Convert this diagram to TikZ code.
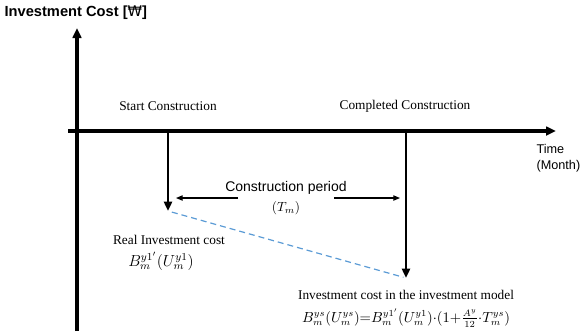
\documentclass[tikz,border=0pt]{standalone}
\usepackage{fontspec}
\setmainfont{Liberation Serif}
\setsansfont{Liberation Sans}
\newfontfamily\wonfont{DejaVu Sans}
\usetikzlibrary{arrows.meta,positioning}
\definecolor{dashblue}{RGB}{91,155,213}

\begin{document}
\begin{tikzpicture}[x=0.75pt, y=-0.75pt]
    \tikzstyle{axis} = [line width=2.3pt, -{Triangle[length=7.5pt,width=6.5pt]}]
    \tikzstyle{drop} = [line width=2.2pt, -{Triangle[length=7pt,width=6pt]}]
    \tikzstyle{span} = [line width=0.8pt, -{Triangle[length=5pt,width=4pt]}]
    \tikzstyle{every node} = [inner sep=1pt, font=\fontsize{10}{12}\selectfont]
    \useasboundingbox (0,0) rectangle (581,333);

    % axes
    \coordinate (ybot) at (77,331);
    \coordinate (ytop) at (77,28);
    \coordinate (xleft) at (68,131);
    \coordinate (xright) at (556,131);
    \draw[axis] (ybot) -- (ytop);
    \draw[axis] (xleft) -- (xright);

    % start and end of construction
    \coordinate (start0) at (168,131);
    \coordinate (start1) at (168,211);
    \coordinate (done0) at (406,131);
    \coordinate (done1) at (406,278);
    \draw[dashblue, line width=0.9pt, dash pattern=on 4.5pt off 3pt,
          shorten <=3pt, shorten >=2pt] (start1) -- (done1);
    \draw[drop] (start0) -- (start1);
    \draw[drop] (done0) -- (done1);

    % labels
    \node[font=\sffamily\bfseries\fontsize{11}{13}\selectfont, anchor=west] (ylabel) at (3,13)
        {Investment Cost [{\wonfont\mdseries ₩}]};
    \node (startlbl) at (168,106) {Start Construction};
    \node (donelbl) at (405,106) {Completed Construction};
    \node[font=\sffamily\fontsize{9.5}{12}\selectfont, align=left, anchor=west] (time) at (535,158)
        {Time\\(Month)};

    % construction period
    \node[font=\sffamily\fontsize{10.5}{12}\selectfont] (period) at (286,188) {Construction period};
    \node (tm) at (286,208) {$(T_m)$};
    \coordinate (pl0) at (238,198);
    \coordinate (pl1) at (176,198);
    \coordinate (pr0) at (334,198);
    \coordinate (pr1) at (400,198);
    \draw[span] (pl0) -- (pl1);
    \draw[span] (pr0) -- (pr1);

    % investment costs
    \node (real) at (169,240) {Real Investment cost};
    \node[font=\fontsize{11.5}{13}\selectfont] (realf) at (161,261) {$B_m^{y1'}(U_m^{y1})$};
    \node (model) at (406,295) {Investment cost in the investment model};
    \node[font=\fontsize{10.5}{12}\selectfont] (modelf) at (406,318)
        {$B_m^{ys}(U_m^{ys}){=}B_m^{y1'}(U_m^{y1}){\cdot}(1{+}\frac{A^y}{12}{\cdot}T_m^{ys})$};
\end{tikzpicture}
\end{document}
